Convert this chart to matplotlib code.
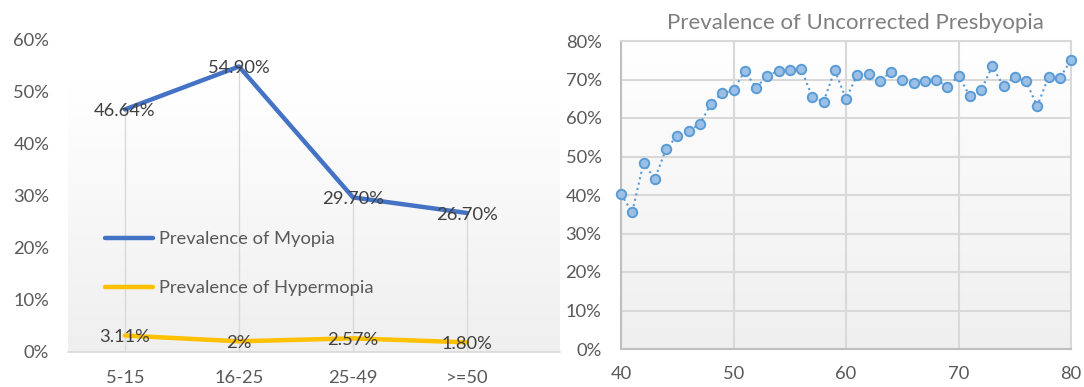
import numpy as np
import matplotlib
matplotlib.use("Agg")
import matplotlib.pyplot as plt
from matplotlib.ticker import PercentFormatter

plt.rcParams['font.family'] = ['Lato', 'DejaVu Sans']

# left chart: prevalence by age group
groups = ['5-15', '16-25', '25-49', '>=50']
myopia = [46.64, 54.90, 29.70, 26.70]
hypermetropia = [3.11, 2.0, 2.57, 1.80]
myopia_labels = ['46.64%', '54.90%', '29.70%', '26.70%']
hyper_labels = ['3.11%', '2%', '2.57%', '1.80%']

# right chart: uncorrected presbyopia by single year of age
ages = list(range(40, 81))
presbyopia = [40.2, 35.5, 48.4, 44.2, 51.9, 55.4, 56.6, 58.4, 63.7, 66.4,
              67.2, 72.2, 67.9, 70.9, 72.3, 72.5, 72.8, 65.5, 64.2, 72.4,
              65.0, 71.2, 71.3, 69.7, 71.9, 70.0, 69.0, 69.7, 70.0, 68.1,
              70.9, 65.8, 67.2, 73.4, 68.3, 70.6, 69.5, 63.1, 70.6, 70.4,
              75.0]

W, H = 1084, 387
fig = plt.figure(figsize=(W / 100, H / 100), dpi=100)


def box(x0, x1, ytop, ybot):
    return [x0 / W, 1 - ybot / H, (x1 - x0) / W, (ybot - ytop) / H]


def gradient(ax, top=1.0):
    g = np.linspace(0, 1, 256).reshape(-1, 1)
    ax.imshow(g, cmap=matplotlib.colors.LinearSegmentedColormap.from_list(
        'bg', ['#ffffff', '#efefef']), aspect='auto',
        extent=[0, 1, 0, top], transform=ax.transAxes, zorder=0)


tick_col = '#595959'
fs = 13.2

# ---- left
ax1 = fig.add_axes(box(68, 560, 40, 351.7))
gradient(ax1, top=(351.7 - 82) / (351.7 - 40))
x = np.arange(len(groups))
ax1.set_xlim(-0.5, (560 - 125) / 114)
ax1.set_ylim(0, 60)
ax1.vlines(x, 0, myopia, color='#d9d9d9', lw=1, zorder=1)
ax1.plot(x, myopia, color='#4472c4', lw=3.2, solid_capstyle='round',
         label='Prevalence of Myopia', zorder=3)
ax1.plot(x, hypermetropia, color='#ffc000', lw=3.2, solid_capstyle='round',
         label='Prevalence of Hypermopia', zorder=3)
for xi, v, t in zip(x, myopia, myopia_labels):
    ax1.text(xi, v - 0.3, t, ha='center', va='center', fontsize=fs,
             color='#404040', zorder=4)
for xi, v, t in zip(x, hypermetropia, hyper_labels):
    ax1.text(xi, v - 0.3, t, ha='center', va='center', fontsize=fs,
             color='#404040', zorder=4)
ax1.set_yticks(range(0, 61, 10))
ax1.yaxis.set_major_formatter(PercentFormatter(decimals=0))
ax1.set_xticks(x)
ax1.set_xticklabels(groups)
ax1.tick_params(length=0, labelsize=fs, colors=tick_col)
ax1.tick_params(axis='y', pad=13.5)
ax1.tick_params(axis='x', pad=13)
for s in ['top', 'right', 'left']:
    ax1.spines[s].set_visible(False)
ax1.spines['bottom'].set_color('#d9d9d9')
ax1.spines['bottom'].set_linewidth(1.2)
ax1.legend(loc='upper left', bbox_to_anchor=((105 - 68) / 492, 1 - (231 - 40) / 311.7),
           frameon=False, fontsize=fs, labelcolor=tick_col, handlelength=2.6,
           handletextpad=0.35, labelspacing=1.8, borderpad=0, borderaxespad=0)

# ---- right
ax2 = fig.add_axes(box(621, 1071, 41, 349))
gradient(ax2)
ax2.set_xlim(40, 80)
ax2.set_ylim(0, 0.8)
ax2.set_xticks(range(40, 81, 10))
ax2.set_yticks(np.arange(0, 0.81, 0.1))
ax2.yaxis.set_major_formatter(PercentFormatter(xmax=1, decimals=0))
ax2.grid(True, color='#d9d9d9', lw=1.5, zorder=1)
ax2.set_axisbelow(True)
ax2.plot(ages, np.array(presbyopia) / 100, ls=':', lw=1.5, color='#5b9bd5',
         marker='o', ms=6.8, mfc='#9cbfe6', mec='#5b9bd5', mew=1.4,
         zorder=3, clip_on=False)
ax2.tick_params(length=0, labelsize=fs, colors=tick_col)
ax2.tick_params(axis='y', pad=14)
ax2.tick_params(axis='x', pad=12)
for s in ['top', 'right']:
    ax2.spines[s].set_color('#d9d9d9')
    ax2.spines[s].set_linewidth(1.5)
for s in ['left', 'bottom']:
    ax2.spines[s].set_color('#bfbfbf')
    ax2.spines[s].set_linewidth(1.5)
fig.text(855 / W, 1 - 23 / H, 'Prevalence of Uncorrected Presbyopia',
         ha='center', va='center', fontsize=16, color='#7f7f7f')

fig.savefig('out.png', dpi=100)
